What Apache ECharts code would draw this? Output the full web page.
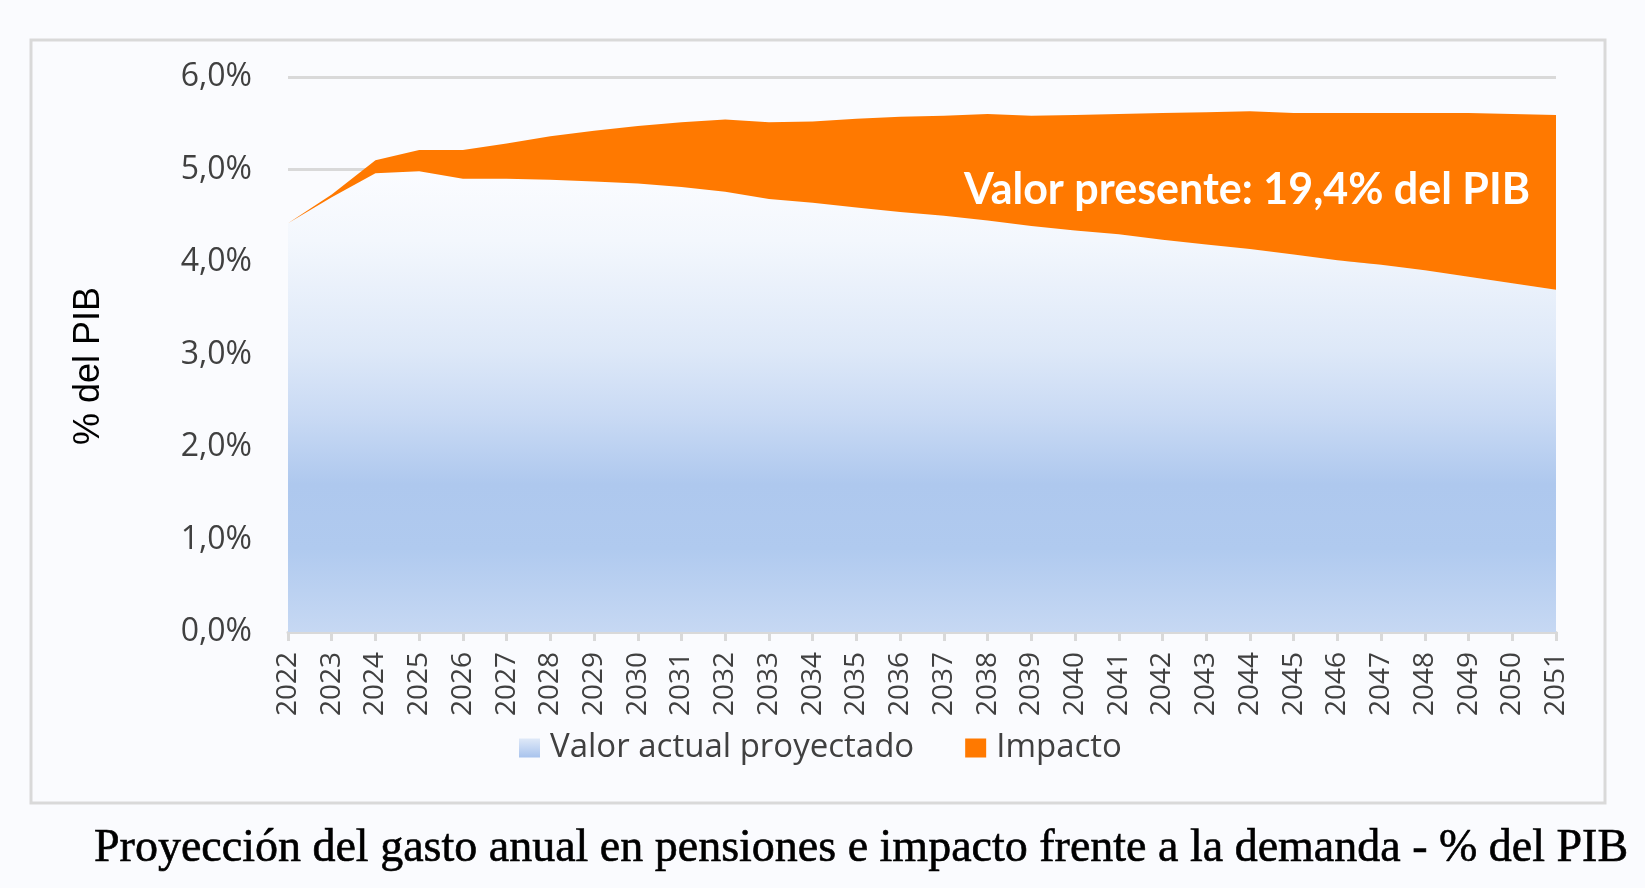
<!DOCTYPE html>
<html lang="es">
<head>
  <meta charset="UTF-8">
  <title>Proyección del gasto anual en pensiones</title>
  <script src="https://cdn.jsdelivr.net/npm/echarts@6/dist/echarts.min.js"></script>
  <style>
    /* lienzo 1645 x 888 */
    html, body {
      margin: 0;
      padding: 0;
      background: #fafbfe;
    }
    #pensionChart {
      width: 1645px;
      height: 888px;
    }
  </style>
</head>
<body>

  <div id="pensionChart"></div>

  <script>
    // años del eje horizontal
    const years = ['2022', '2023', '2024', '2025', '2026', '2027', '2028', '2029', '2030', '2031',
      '2032', '2033', '2034', '2035', '2036', '2037', '2038', '2039', '2040', '2041',
      '2042', '2043', '2044', '2045', '2046', '2047', '2048', '2049', '2050', '2051'];

    // gasto proyectado (% del PIB)
    const valorActual = [4.42, 4.70, 4.96, 4.98, 4.90, 4.90, 4.89, 4.87, 4.85, 4.81,
      4.76, 4.68, 4.64, 4.59, 4.54, 4.50, 4.45, 4.39, 4.34, 4.30,
      4.24, 4.19, 4.14, 4.08, 4.02, 3.97, 3.91, 3.84, 3.77, 3.70];

    // impacto apilado encima (diferencia hasta el total)
    const impacto = [0.00, 0.03, 0.14, 0.23, 0.31, 0.38, 0.47, 0.55, 0.62, 0.70,
      0.78, 0.83, 0.88, 0.96, 1.03, 1.08, 1.15, 1.19, 1.25, 1.30,
      1.37, 1.43, 1.49, 1.53, 1.59, 1.64, 1.70, 1.77, 1.83, 1.89];

    const yTicks = [0, 1, 2, 3, 4, 5, 6];

    const seriesNames = ['Valor actual proyectado', 'Impacto'];
    const annotation = 'Valor presente: 19,4% del PIB';
    const yTitle = '% del PIB';
    const caption = 'Proyección del gasto anual en pensiones e impacto frente a la demanda - % del PIB';

    const blueFill = new echarts.graphic.LinearGradient(0, 0, 0, 1, [
      { offset: 0, color: '#fbfcff' },
      { offset: 0.15, color: '#f3f7fd' },
      { offset: 0.39, color: '#dde8f8' },
      { offset: 0.53, color: '#c9daf4' },
      { offset: 0.68, color: '#aec8ee' },
      { offset: 0.82, color: '#b0caef' },
      { offset: 1, color: '#c6d8f3' }
    ]);
    const legendBlue = new echarts.graphic.LinearGradient(0, 0, 0, 1, [
      { offset: 0, color: '#dfe9f8' },
      { offset: 1, color: '#a8c3ed' }
    ]);
    const orange = '#ff7900';
    const grey = '#d9d9d9';
    const labelColor = '#404040';

    const chart = echarts.init(document.getElementById('pensionChart'));
    chart.setOption({
      backgroundColor: '#fafbfe',
      animation: false,
      grid: {
        left: 288,
        right: 89,
        top: 77,
        bottom: 256,
        outerBoundsMode: 'none'
      },
      legend: {
        left: 514,
        top: 724,
        itemWidth: 21,
        itemHeight: 19,
        itemGap: 51,
        textStyle: {
          fontFamily: 'Open Sans',
          fontSize: 33,
          color: labelColor,
          lineHeight: 38,
          padding: [0, 0, 0, 5]
        },
        data: [
          { name: seriesNames[0], icon: 'rect', itemStyle: { color: legendBlue } },
          { name: seriesNames[1], icon: 'rect', itemStyle: { color: orange } }
        ]
      },
      xAxis: {
        type: 'category',
        data: years,
        boundaryGap: false,
        axisLine: { lineStyle: { color: grey, width: 3 } },
        axisTick: { show: true, length: 9, lineStyle: { color: grey, width: 3 } },
        axisLabel: {
          rotate: 90,
          interval: 0,
          margin: 20,
          fontFamily: 'Open Sans',
          fontSize: 28,
          color: labelColor
        },
        splitLine: { show: false }
      },
      yAxis: {
        type: 'value',
        min: yTicks[0],
        max: yTicks[yTicks.length - 1],
        interval: 1,
        axisLine: { show: false },
        axisTick: { show: false },
        axisLabel: {
          margin: 36,
          fontFamily: 'Open Sans',
          fontSize: 32,
          color: labelColor,
          formatter: v => v.toFixed(1).replace('.', ',') + '%'
        },
        splitLine: { lineStyle: { color: grey, width: 3 } }
      },
      series: [
        {
          name: seriesNames[0],
          type: 'line',
          stack: 'total',
          data: valorActual,
          symbol: 'none',
          lineStyle: { width: 0 },
          itemStyle: { color: '#aec8ee' },
          areaStyle: { color: blueFill, opacity: 1 }
        },
        {
          name: seriesNames[1],
          type: 'line',
          stack: 'total',
          data: impacto,
          symbol: 'none',
          lineStyle: { width: 0 },
          itemStyle: { color: orange },
          areaStyle: { color: orange, opacity: 1 }
        }
      ],
      graphic: [
        {
          type: 'rect',
          z: -1,
          shape: { x: 31, y: 40, width: 1574, height: 763 },
          style: { fill: 'none', stroke: grey, lineWidth: 3 }
        },
        {
          type: 'text',
          x: 89,
          y: 366,
          rotation: Math.PI / 2,
          style: {
            text: yTitle,
            fontFamily: 'Liberation Sans',
            fontSize: 36,
            fill: '#000',
            textAlign: 'center',
            textVerticalAlign: 'middle'
          }
        },
        {
          type: 'text',
          x: 1530,
          y: 190,
          z: 10,
          style: {
            text: annotation,
            fontFamily: 'Lato',
            fontWeight: 'bold',
            fontSize: 43,
            fill: '#fff',
            textAlign: 'right',
            textVerticalAlign: 'middle'
          }
        },
        {
          type: 'text',
          x: 94,
          y: 849,
          style: {
            text: caption,
            fontFamily: 'Liberation Serif',
            fontSize: 46,
            fill: '#000',
            stroke: '#000',
            lineWidth: 0.6,
            textAlign: 'left',
            textVerticalAlign: 'middle'
          }
        }
      ]
    });
  </script>
</body>
</html>
